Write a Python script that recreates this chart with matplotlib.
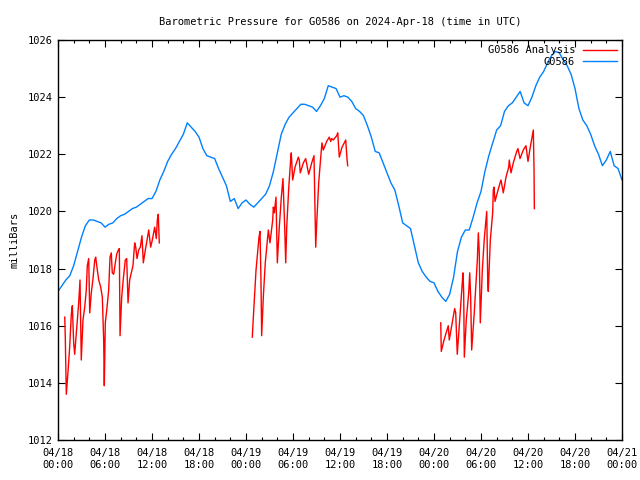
import numpy as np
import matplotlib
matplotlib.use('Agg')
import matplotlib.pyplot as plt
from matplotlib.ticker import MultipleLocator, FixedLocator

plt.rcParams['font.family']       = 'DejaVu Sans Mono'
plt.rcParams['font.size']         = 7.5
plt.rcParams['xtick.direction']   = 'in'
plt.rcParams['ytick.direction']   = 'in'
plt.rcParams['xtick.top']         = True
plt.rcParams['ytick.right']       = True
plt.rcParams['axes.linewidth']    = 1.0

title = 'Barometric Pressure for G0586 on 2024-Apr-18 (time in UTC)'
ylabel = 'milliBars'

# observed station pressure, every half hour from 04/18 00:00 UTC
obs_hours = np.arange(0, 72.5, 0.5)
obs_mb = [1017.2, 1017.4, 1017.6, 1017.75, 1018.1, 1018.6, 1019.1, 1019.5, 1019.7, 1019.7,
          1019.65, 1019.6, 1019.45, 1019.55, 1019.6, 1019.75, 1019.85, 1019.9, 1020.0, 1020.1,
          1020.15, 1020.25, 1020.35, 1020.45, 1020.45, 1020.7, 1021.1, 1021.4, 1021.75, 1022.0,
          1022.2, 1022.45, 1022.7, 1023.1, 1022.95, 1022.8, 1022.6, 1022.2, 1021.95, 1021.9,
          1021.85, 1021.5, 1021.2, 1020.9, 1020.35, 1020.45, 1020.1, 1020.3, 1020.4, 1020.25,
          1020.15, 1020.3, 1020.45, 1020.6, 1020.9, 1021.4, 1022.05, 1022.7, 1023.05, 1023.3,
          1023.45, 1023.6, 1023.75, 1023.75, 1023.7, 1023.65, 1023.5, 1023.7, 1023.95, 1024.4,
          1024.35, 1024.3, 1024.0, 1024.05, 1024.0, 1023.85, 1023.6, 1023.5, 1023.35, 1023.0,
          1022.6, 1022.1, 1022.05, 1021.7, 1021.35, 1021.0, 1020.75, 1020.2, 1019.6, 1019.5,
          1019.4, 1018.8, 1018.2, 1017.9, 1017.7, 1017.55, 1017.5, 1017.2, 1017.0, 1016.85,
          1017.1, 1017.7, 1018.6, 1019.1, 1019.35, 1019.35, 1019.8, 1020.3, 1020.7, 1021.4,
          1021.95, 1022.4, 1022.85, 1023.0, 1023.5, 1023.7, 1023.8, 1024.0, 1024.2, 1023.8,
          1023.7, 1024.0, 1024.4, 1024.7, 1024.9, 1025.2, 1025.45, 1025.6, 1025.55, 1025.3,
          1025.1, 1024.8, 1024.3, 1023.6, 1023.2, 1023.0, 1022.7, 1022.3, 1022.0, 1021.6,
          1021.8, 1022.1, 1021.6, 1021.5, 1021.1]

# analysis series, three runs
ana1_hours = [0.86, 0.93, 1.06, 1.28, 1.49, 1.70, 1.83, 2.00, 2.13, 2.34, 2.64, 2.81, 2.97,
              3.19, 3.41, 3.61, 3.74, 3.92, 4.05, 4.25, 4.47, 4.69, 4.81, 5.02, 5.20, 5.45,
              5.66, 5.83, 5.91, 6.04, 6.26, 6.47, 6.64, 6.80, 6.93, 7.11, 7.32, 7.49, 7.70,
              7.83, 7.92, 8.13, 8.34, 8.59, 8.77, 8.94, 9.15, 9.36, 9.57, 9.79, 9.92, 10.09,
              10.30, 10.51, 10.72, 10.89, 11.15, 11.40, 11.58, 11.83, 12.04, 12.34, 12.55,
              12.68, 12.80, 12.93]
ana1_mb = [1016.3, 1015.6, 1013.6, 1014.4, 1015.25, 1016.4, 1016.7, 1015.4, 1015.0, 1015.75,
           1016.8, 1017.6, 1014.8, 1016.2, 1016.65, 1017.25, 1018.1, 1018.35, 1016.45, 1017.15,
           1017.65, 1018.3, 1018.4, 1017.95, 1017.6, 1017.35, 1017.0, 1015.5, 1013.9, 1016.1,
           1016.65, 1017.25, 1018.4, 1018.55, 1017.85, 1017.8, 1018.2, 1018.5, 1018.65, 1018.7,
           1015.65, 1017.0, 1017.65, 1018.3, 1018.35, 1016.8, 1017.6, 1017.85, 1018.1, 1018.9,
           1018.75, 1018.35, 1018.65, 1018.75, 1019.15, 1018.2, 1018.65, 1019.05, 1019.35,
           1018.75, 1019.0, 1019.45, 1019.05, 1019.7, 1019.9, 1018.9]

ana2_hours = [24.80, 25.02, 25.28, 25.66, 25.79, 25.91, 26.00, 26.21, 26.46, 26.85, 27.06,
              27.41, 27.49, 27.61, 27.83, 28.00, 28.25, 28.51, 28.72, 28.94, 29.07, 29.20,
              29.45, 29.71, 29.78, 29.96, 30.26, 30.68, 30.80, 30.93, 31.32, 31.62, 32.00,
              32.39, 32.68, 32.90, 33.03, 33.28, 33.54, 33.70, 33.87, 34.30, 34.63, 34.81,
              34.94, 35.14, 35.58, 35.71, 35.91, 36.26, 36.73, 36.89, 36.98]
ana2_mb = [1015.6, 1016.7, 1017.95, 1019.1, 1019.3, 1017.6, 1015.65, 1017.0, 1018.2, 1019.35,
           1018.9, 1019.7, 1020.15, 1019.95, 1020.5, 1018.2, 1019.45, 1020.5, 1021.15, 1019.45,
           1018.2, 1019.45, 1020.8, 1021.85, 1022.05, 1021.1, 1021.55, 1021.9, 1021.8, 1021.35,
           1021.7, 1021.85, 1021.3, 1021.7, 1021.95, 1018.75, 1019.6, 1021.0, 1021.9, 1022.4,
           1022.15, 1022.45, 1022.6, 1022.45, 1022.55, 1022.5, 1022.65, 1022.75, 1021.9,
           1022.25, 1022.5, 1021.85, 1021.6]

ana3_hours = [48.86, 48.93, 49.28, 49.82, 49.95, 50.26, 50.64, 50.77, 50.97, 51.28, 51.61,
              51.70, 51.79, 51.87, 52.12, 52.43, 52.56, 52.68, 52.81, 53.14, 53.53, 53.66,
              53.78, 53.91, 54.17, 54.42, 54.73, 54.86, 54.93, 55.19, 55.49, 55.57, 55.66,
              55.79, 56.08, 56.43, 56.55, 56.85, 57.19, 57.54, 57.61, 57.83, 58.12, 58.56,
              58.72, 58.98, 59.40, 59.74, 60.00, 60.26, 60.68, 60.77, 60.81]
ana3_mb = [1016.1, 1015.1, 1015.5, 1016.0, 1015.5, 1016.0, 1016.6, 1016.45, 1015.0, 1016.2,
           1017.5, 1017.85, 1017.15, 1014.9, 1016.2, 1017.15, 1017.85, 1017.0, 1015.15, 1016.45,
           1018.3, 1019.25, 1018.55, 1016.1, 1017.95, 1019.05, 1020.0, 1017.5, 1017.2, 1019.0,
           1019.95, 1020.75, 1020.85, 1020.35, 1020.65, 1021.0, 1021.1, 1020.65, 1021.2,
           1021.55, 1021.8, 1021.35, 1021.7, 1022.1, 1022.2, 1021.85, 1022.15, 1022.3, 1021.75,
           1022.2, 1022.85, 1021.45, 1020.1]

tick_hours = list(range(0, 73, 6))
tick_labels = ['04/18\n00:00', '04/18\n06:00', '04/18\n12:00', '04/18\n18:00',
               '04/19\n00:00', '04/19\n06:00', '04/19\n12:00', '04/19\n18:00',
               '04/20\n00:00', '04/20\n06:00', '04/20\n12:00', '04/20\n18:00',
               '04/21\n00:00']

red = '#ff0000'
blue = '#0080ff'

fig = plt.figure(figsize=(6.4, 4.8), dpi=100)
ax = fig.add_axes([58/640, 40/480, 564/640, 400/480])

# analysis runs, separate lines so gaps stay open
ax.plot(ana1_hours, ana1_mb, color=red, lw=1.0, label='G0586 Analysis')
ax.plot(ana2_hours, ana2_mb, color=red, lw=1.0)
ax.plot(ana3_hours, ana3_mb, color=red, lw=1.0)
ax.plot(obs_hours, obs_mb, color=blue, lw=1.0, label='G0586')

ax.set_xlim(0, 72)
ax.set_ylim(1012, 1026)
ax.xaxis.set_major_locator(FixedLocator(tick_hours))
ax.set_xticklabels(tick_labels)
ax.xaxis.set_minor_locator(MultipleLocator(2))
ax.yaxis.set_major_locator(MultipleLocator(2))
ax.tick_params(which='major', length=5, width=0.8, pad=6)
ax.tick_params(which='minor', length=2.5, width=0.8)
ax.tick_params(axis='y', pad=4)

ax.set_title(title, fontsize=7.5, pad=11)
ax.set_ylabel(ylabel, labelpad=6)

ax.legend(loc='upper right', frameon=False, markerfirst=False, handlelength=3.2,
          borderaxespad=0.1, labelspacing=0.15, fontsize=7.5)

fig.savefig('out.png', dpi=100)
